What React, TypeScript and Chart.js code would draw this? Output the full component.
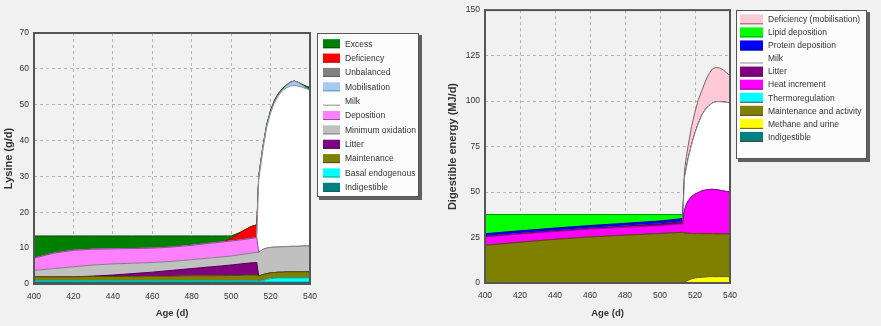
import React, { useEffect, useRef } from 'react';
import { Chart, registerables } from 'chart.js';

Chart.register(...registerables);

// ---------- Lysine chart data (g/d) ----------
const lysAges = [400, 410, 420, 430, 440, 450, 460, 470, 480, 490, 495, 500, 505, 510, 513, 514, 515, 516, 518, 520, 522, 524, 526, 528, 530, 532, 534, 536, 538, 540];
const lysIndigestible = [0.5, 0.5, 0.5, 0.5, 0.5, 0.5, 0.5, 0.5, 0.5, 0.5, 0.5, 0.5, 0.5, 0.5, 0.5, 0.5, 0.5, 0.5, 0.5, 0.5, 0.5, 0.5, 0.5, 0.5, 0.5, 0.5, 0.5, 0.5, 0.5, 0.5];
const lysBasal = [0.4, 0.4, 0.4, 0.4, 0.4, 0.4, 0.4, 0.4, 0.4, 0.4, 0.4, 0.4, 0.4, 0.4, 0.4, 0.3, 0.4, 0.5, 0.8, 1.0, 1.1, 1.2, 1.2, 1.2, 1.2, 1.2, 1.2, 1.2, 1.2, 1.2];
const lysMaintenance = [1.1, 1.1, 1.1, 1.2, 1.2, 1.2, 1.3, 1.3, 1.4, 1.4, 1.45, 1.5, 1.5, 1.6, 1.6, 1.4, 1.5, 1.6, 1.6, 1.6, 1.6, 1.6, 1.6, 1.7, 1.7, 1.7, 1.7, 1.7, 1.7, 1.7];
const lysLitter = [0, 0, 0, 0.1, 0.4, 0.8, 1.1, 1.6, 2.0, 2.5, 2.7, 2.9, 3.2, 3.4, 3.5, 0, 0, 0, 0, 0, 0, 0, 0, 0, 0, 0, 0, 0, 0, 0];
const lysMinOxidation = [1.8, 2.3, 2.8, 3.1, 3.1, 2.9, 2.7, 2.5, 2.5, 2.5, 2.5, 2.5, 2.6, 2.7, 2.8, 6.6, 6.8, 7.0, 7.1, 7.1, 7.1, 7.0, 7.1, 7.0, 7.1, 7.1, 7.1, 7.2, 7.2, 7.2];
const lysDeposition = [3.4, 4.3, 4.6, 4.4, 4.2, 4.1, 4.0, 4.0, 4.0, 4.1, 4.15, 4.2, 4.1, 4.1, 4.1, 0, 0, 0, 0, 0, 0, 0, 0, 0, 0, 0, 0, 0, 0, 0];
const lysMilk = [0, 0, 0, 0, 0, 0, 0, 0, 0, 0, 0, 0, 0, 0, 0, 20.2, 23.7, 27.4, 33.6, 37.5, 40.3, 42.3, 43.5, 44.3, 44.7, 44.9, 44.7, 44.3, 43.9, 43.4];
const lysMobilisation = [0, 0, 0, 0, 0, 0, 0, 0, 0, 0, 0, 0, 0, 0, 0, 1.0, 1.0, 0.8, 0.5, 0.3, 0.2, 0.2, 0.3, 0.6, 1.0, 1.2, 1.0, 0.6, 0.2, 0];
const lysUnbalanced = [0, 0, 0, 0, 0, 0, 0, 0, 0, 0, 0, 0, 0, 0, 0, 0, 0, 0, 0, 0, 0, 0, 0, 0, 0, 0, 0, 0, 0, 0];
const lysDeficiency = [0, 0, 0, 0, 0, 0, 0, 0, 0, 0, 0, 0.6, 2.2, 3.3, 3.6, 0, 0, 0, 0, 0, 0, 0, 0, 0, 0, 0, 0, 0, 0, 0];
const lysExcess = [6.2, 4.8, 4.0, 3.7, 3.6, 3.5, 3.4, 3.1, 2.6, 2.0, 1.7, 0.8, 0, 0, 0, 0, 0.1, 0.2, 0.4, 0.5, 0.5, 0.4, 0.3, 0.2, 0.1, 0, 0, 0.2, 0.5, 0.8];
const lysYTicks = [0, 10, 20, 30, 40, 50, 60, 70];

// ---------- Digestible energy chart data (MJ/d) ----------
const enAges = [400, 420, 440, 460, 480, 500, 510, 513, 514, 515, 516, 518, 520, 522, 524, 526, 528, 530, 532, 534, 536, 538, 540];
const enIndigestible = [0, 0, 0, 0, 0, 0, 0, 0, 0, 0, 0, 0, 0, 0, 0, 0, 0, 0, 0, 0, 0, 0, 0];
const enMethaneUrine = [0, 0, 0, 0, 0, 0, 0, 0, 0.5, 1.0, 1.5, 2.3, 2.8, 3.0, 3.2, 3.3, 3.5, 3.5, 3.5, 3.5, 3.5, 3.5, 3.5];
const enMaintenance = [20.7, 22.4, 24.0, 25.3, 26.3, 27.2, 27.7, 27.9, 27.0, 26.4, 25.8, 24.9, 24.4, 24.2, 23.9, 23.8, 23.6, 23.6, 23.5, 23.5, 23.5, 23.5, 23.5];
const enThermoregulation = [0, 0, 0, 0, 0, 0, 0, 0, 0, 0, 0, 0, 0, 0, 0, 0, 0, 0, 0, 0, 0, 0, 0];
const enHeatIncrement = [4.6, 4.5, 4.3, 4.3, 4.3, 4.3, 4.5, 4.5, 12.5, 15.6, 17.7, 20.3, 21.6, 22.6, 23.5, 24.0, 24.3, 24.4, 24.3, 24.0, 23.6, 23.3, 23.0];
const enLitter = [0.2, 0.3, 0.4, 0.5, 0.7, 1.0, 1.2, 1.3, 0, 0, 0, 0, 0, 0, 0, 0, 0, 0, 0, 0, 0, 0, 0];
const enMilk = [0, 0, 0, 0, 0, 0, 0, 0, 18, 20, 23, 28.5, 33.7, 38.2, 41.9, 44.4, 46.1, 47.5, 48.3, 48.7, 48.9, 49.0, 49.0];
const enProtein = [1.6, 1.5, 1.5, 1.5, 1.5, 1.6, 1.7, 1.7, 0, 0, 0, 0, 0, 0, 0, 0, 0, 0, 0, 0, 0, 0, 0];
const enLipid = [10.5, 8.9, 7.4, 6.0, 4.8, 3.5, 2.5, 2.2, 0, 0, 0, 0, 0, 0, 0, 0, 0, 0, 0, 0, 0, 0, 0];
const enDeficiency = [0, 0, 0, 0, 0, 0, 0, 0, 4, 6, 7, 10, 11.5, 13, 13.5, 15.5, 17.5, 18.8, 18.9, 18.5, 17.7, 16.3, 15];
const enYTicks = [0, 25, 50, 75, 100, 125, 150];

const xTicks = [400, 420, 440, 460, 480, 500, 520, 540];

const FONT = '"Liberation Sans", Arial, sans-serif';

type Layer = { label: string; values: number[]; fill: string; line: string };

const lysLayers: Layer[] = [
  { label: 'Indigestible', values: lysIndigestible, fill: '#008080', line: '#005a5a' },
  { label: 'Basal endogenous', values: lysBasal, fill: '#00ffff', line: '#00a8a8' },
  { label: 'Maintenance', values: lysMaintenance, fill: '#808000', line: '#4e4e00' },
  { label: 'Litter', values: lysLitter, fill: '#800080', line: '#4c004c' },
  { label: 'Minimum oxidation', values: lysMinOxidation, fill: '#c0c0c0', line: '#808080' },
  { label: 'Deposition', values: lysDeposition, fill: '#ff80ff', line: '#9a4a9a' },
  { label: 'Milk', values: lysMilk, fill: '#ffffff', line: '#8c8c8c' },
  { label: 'Mobilisation', values: lysMobilisation, fill: '#a6caf0', line: '#7090b8' },
  { label: 'Unbalanced', values: lysUnbalanced, fill: '#808080', line: '#606060' },
  { label: 'Deficiency', values: lysDeficiency, fill: '#ff0000', line: '#a00000' },
  { label: 'Excess', values: lysExcess, fill: '#008000', line: '#005000' },
];

const enLayers: Layer[] = [
  { label: 'Indigestible', values: enIndigestible, fill: '#008080', line: '#4a4a20' },
  { label: 'Methane and urine', values: enMethaneUrine, fill: '#ffff00', line: '#6a5a10' },
  { label: 'Maintenance and activity', values: enMaintenance, fill: '#808000', line: '#6a3a1a' },
  { label: 'Thermoregulation', values: enThermoregulation, fill: '#00ffff', line: '#6a3a40' },
  { label: 'Heat increment', values: enHeatIncrement, fill: '#ff00ff', line: '#a000a0' },
  { label: 'Litter', values: enLitter, fill: '#800080', line: '#4c004c' },
  { label: 'Milk', values: enMilk, fill: '#ffffff', line: '#8c8c8c' },
  { label: 'Protein deposition', values: enProtein, fill: '#0000ff', line: '#000090' },
  { label: 'Lipid deposition', values: enLipid, fill: '#00ff00', line: '#00a000' },
  { label: 'Deficiency (mobilisation)', values: enDeficiency, fill: '#ffcad6', line: '#806068' },
];

const boxLegend = {
  id: 'boxLegend',
  afterDraw(chart: any, _args: any, o: any) {
    const ctx = chart.ctx as CanvasRenderingContext2D;
    const items = chart.data.datasets.slice().reverse();
    ctx.save();
    ctx.fillStyle = 'rgba(70,70,70,0.85)';
    ctx.fillRect(o.x + 2, o.y + 2, o.w + 1, o.h + 1);
    ctx.fillStyle = '#fcfcfc';
    ctx.fillRect(o.x, o.y, o.w, o.h);
    ctx.strokeStyle = '#555';
    ctx.lineWidth = 1;
    ctx.strokeRect(o.x + 0.5, o.y + 0.5, o.w - 1, o.h - 1);
    ctx.font = `8.5px ${FONT}`;
    ctx.textBaseline = 'middle';
    ctx.textAlign = 'left';
    items.forEach((ds: any, i: number) => {
      const cy = o.firstY + i * o.step;
      ctx.fillStyle = ds.backgroundColor;
      ctx.fillRect(o.boxX, cy - o.boxH / 2, o.boxW, o.boxH);
      ctx.fillStyle = ds.borderColor;
      ctx.fillRect(o.boxX, cy + o.boxH / 2 - 1, o.boxW, 1);
      ctx.fillStyle = '#333';
      ctx.fillText(ds.label, o.textX, cy + 0.5);
    });
    ctx.restore();
  },
};

const frame = {
  id: 'frame',
  afterDatasetsDraw(chart: any) {
    const { ctx, chartArea: a } = chart;
    ctx.save();
    ctx.strokeStyle = '#555';
    ctx.lineWidth = 2;
    ctx.strokeRect(a.left, a.top, a.right - a.left, a.bottom - a.top);
    ctx.restore();
  },
};

function buildConfig(
  ages: number[],
  layers: Layer[],
  yMax: number,
  yStep: number,
  yTicks: number[],
  yTitle: string,
  geom: any
) {
  return {
    type: 'line' as const,
    data: {
      datasets: layers.map((l, i) => ({
        label: l.label,
        data: ages.map((a, j) => ({ x: a, y: l.values[j] })),
        backgroundColor: l.fill,
        borderColor: l.line,
        borderWidth: 1,
        fill: i === 0 ? 'origin' : '-1',
        pointRadius: 0,
        tension: 0,
      })),
    },
    options: {
      responsive: false,
      animation: false as const,
      layout: { padding: geom.padding },
      plugins: {
        legend: { display: false },
        tooltip: { enabled: false },
        boxLegend: geom.legend,
      },
      scales: {
        x: {
          type: 'linear' as const,
          min: 400,
          max: 540,
          afterFit: (s: any) => { s.height = geom.xHeight; },
          afterBuildTicks: (s: any) => { s.ticks = xTicks.map((v) => ({ value: v })); },
          ticks: { padding: 8, color: '#333', font: { family: FONT, size: 8.5 } },
          grid: { color: '#b4b4b4', drawTicks: false },
          border: { display: false, dash: [3, 3] },
          title: {
            display: true,
            text: 'Age (d)',
            color: '#333',
            font: { family: FONT, size: 9.5, weight: 'bold' as const },
            padding: { top: 0, bottom: 7 },
          },
        },
        y: {
          stacked: true,
          min: 0,
          max: yMax,
          afterFit: (s: any) => { s.width = geom.yWidth; },
          afterBuildTicks: (s: any) => { s.ticks = yTicks.map((v) => ({ value: v })); },
          ticks: { stepSize: yStep, padding: 5, color: '#333', font: { family: FONT, size: 8.5 } },
          grid: { color: '#b4b4b4', drawTicks: false },
          border: { display: false, dash: [3, 3] },
          title: {
            display: true,
            text: yTitle,
            color: '#333',
            font: { family: FONT, size: 11, weight: 'bold' as const },
            padding: { top: geom.yTitlePad, bottom: 0 },
          },
        },
      },
    },
    plugins: [boxLegend, frame],
  };
}

function AreaChart(props: { width: number; config: any; left: number }) {
  const ref = useRef<HTMLCanvasElement>(null);
  useEffect(() => {
    if (!ref.current) return;
    const chart = new Chart(ref.current, props.config);
    return () => chart.destroy();
  }, []);
  return (
    <canvas
      ref={ref}
      width={props.width}
      height={326}
      style={{ position: 'absolute', left: props.left, top: 0, width: props.width, height: 326 }}
    />
  );
}

export default function App() {
  const lysConfig = buildConfig(lysAges, lysLayers, 70, 10, lysYTicks, 'Lysine (g/d)', {
    padding: { left: 0, top: 33, right: 130, bottom: 0 },
    xHeight: 42,
    yWidth: 34,
    yTitlePad: 2,
    legend: { x: 317, y: 33, w: 102, h: 164, firstY: 43.7, step: 14.36, boxX: 323, boxW: 17, boxH: 9, textX: 345 },
  });
  const enConfig = buildConfig(enAges, enLayers, 150, 25, enYTicks, 'Digestible energy (MJ/d)', {
    padding: { left: 0, top: 8, right: 151, bottom: 0 },
    xHeight: 43,
    yWidth: 45,
    yTitlePad: 6,
    legend: { x: 296, y: 10, w: 131, h: 149, firstY: 19.3, step: 13.07, boxX: 300, boxW: 23, boxH: 10, textX: 328 },
  });
  return (
    <div style={{ position: 'fixed', left: 0, top: 0, width: 881, height: 326, background: '#f1f1f1', overflow: 'hidden' }}>
      <AreaChart width={440} left={0} config={lysConfig} />
      <AreaChart width={441} left={440} config={enConfig} />
    </div>
  );
}
